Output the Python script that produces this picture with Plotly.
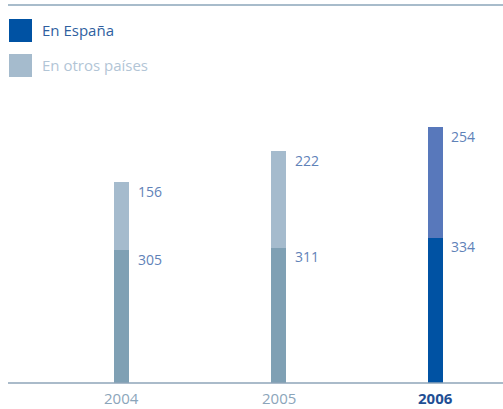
import plotly.graph_objects as go

years = ["2004", "2005", "2006"]
espana = [305, 311, 334]
otros = [156, 222, 254]
legend_labels = ["En España", "En otros países"]

col_esp = ["#7fa0b4", "#7fa0b4", "#0052a3"]
col_otr = ["#a5bbcd", "#a5bbcd", "#5878bb"]

xpos = list(range(len(years)))
fig = go.Figure()
fig.add_trace(go.Bar(x=xpos, y=espana, marker=dict(color=col_esp, line=dict(width=0)),
                     width=0.096, name=legend_labels[0], showlegend=False, hoverinfo="skip"))
fig.add_trace(go.Bar(x=xpos, y=otros, marker=dict(color=col_otr, line=dict(width=0)),
                     width=0.096, name=legend_labels[1], showlegend=False, hoverinfo="skip"))

font = "Open Sans"
ann = []
for i, (e, o) in enumerate(zip(espana, otros)):
    for val, top in ((e, e), (o, e + o)):
        ann.append(dict(x=i, y=top, xref="x", yref="y", text=str(val), showarrow=False,
                        xanchor="left", yanchor="top", xshift=14, yshift=2.5,
                        font=dict(family=font, size=14, color="#5f82b8")))
    last = i == len(years) - 1
    ann.append(dict(x=i, y=0, xref="x", yref="paper", text=("<b>%s</b>" % years[i]) if last else years[i],
                    showarrow=False, xanchor="center", yanchor="middle", yshift=-15,
                    font=dict(family=font, size=15, color="#1f4f94" if last else "#8ba5ba")))

# custom legend
leg_cols = ["#0052a3", "#a5bbcd"]
leg_txt_cols = ["#2f5f9f", "#b2c5d6"]
shapes = []
for j, lab in enumerate(legend_labels):
    y0 = 19 + 35 * j
    shapes.append(dict(type="rect", xref="paper", yref="paper",
                       x0=(9 - 8) / 495, x1=(32 - 8) / 495,
                       y0=1 - (y0 + 23 - 5) / 378, y1=1 - (y0 - 5) / 378,
                       fillcolor=leg_cols[j], line=dict(width=0)))
    ann.append(dict(x=(40 - 8) / 495, y=1 - (y0 + 11.5 - 5) / 378, xref="paper", yref="paper",
                    text=lab, showarrow=False, xanchor="left", yanchor="middle",
                    font=dict(family=font, size=15, color=leg_txt_cols[j])))

shapes.append(dict(type="line", xref="paper", yref="paper", x0=0, x1=1, y0=1, y1=1,
                   line=dict(color="#a8bccb", width=2)))
shapes.append(dict(type="line", xref="paper", yref="paper", x0=0, x1=1, y0=0, y1=0,
                   line=dict(color="#8ea5b8", width=1.5)))

fig.update_layout(
    barmode="stack",
    width=503, height=409,
    margin=dict(l=8, r=0, t=5, b=26),
    paper_bgcolor="white", plot_bgcolor="white",
    xaxis=dict(range=[-0.723, 2.43], showticklabels=False, showgrid=False, zeroline=False, visible=False),
    yaxis=dict(range=[0, 869], showgrid=False, zeroline=False, visible=False),
    annotations=ann, shapes=shapes,
)
fig.write_html("out.html", config={"displayModeBar": False},
               post_script="document.body.style.margin='0';document.body.style.overflow='hidden';")
